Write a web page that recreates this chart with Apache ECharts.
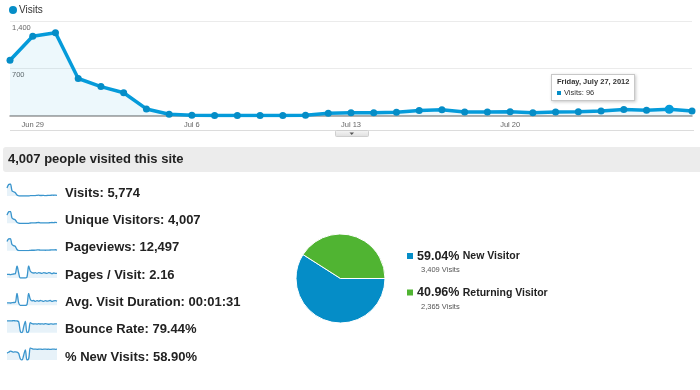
<!DOCTYPE html>
<html><head><meta charset="utf-8">
<script src="https://cdn.jsdelivr.net/npm/echarts@6/dist/echarts.min.js"></script>
<style>html,body{margin:0;padding:0;background:#fff}#c{width:700px;height:390px}</style>
</head><body><div id="c"></div>
<script>
// ---- data ----
const days = ['Jun 28','Jun 29','Jun 30','Jul 1','Jul 2','Jul 3','Jul 4','Jul 5','Jul 6','Jul 7','Jul 8','Jul 9','Jul 10','Jul 11','Jul 12','Jul 13','Jul 14','Jul 15','Jul 16','Jul 17','Jul 18','Jul 19','Jul 20','Jul 21','Jul 22','Jul 23','Jul 24','Jul 25','Jul 26','Jul 27','Jul 28'];
const visits = [820,1175,1225,550,430,340,100,22,5,4,4,4,4,5,36,42,45,50,78,88,55,55,60,45,55,60,68,92,80,96,70];
const yTicks = [0,700,1400];
const xTickLabels = ['Jun 29','Jul 6','Jul 13','Jul 20'];

const sparkUnique = [600,850,880,390,310,245,72,16,4,3,3,3,3,4,26,30,33,36,55,62,40,40,43,33,40,43,48,64,57,68,50];
const sparkPageviews = [2100,2700,2750,1400,1150,950,260,40,6,4,4,4,5,20,80,95,100,110,170,190,120,120,130,100,120,130,150,200,170,210,150];
const sparkPagesVisit = [2.1,2.1,2.0,2.1,2.2,2.3,4.6,2.5,1.0,1.0,1.0,1.0,1.3,4.6,3.0,2.6,2.5,2.6,2.4,2.6,2.5,2.4,2.6,2.5,2.4,2.6,2.5,2.3,2.5,2.4,2.4];
const sparkDuration = [60,62,58,65,70,75,300,60,0,0,0,0,20,300,150,110,120,100,115,105,120,110,100,115,105,110,120,100,110,115,105];
const sparkBounce = [82,82,81,82,83,82,81,75,10,0,40,78,0,10,70,62,60,61,59,62,60,61,59,62,60,58,61,60,59,61,60];
const sparkNewVisits = [58,64,74,70,66,68,66,55,10,0,40,85,0,10,100,94,90,91,89,90,91,88,90,91,89,90,88,90,91,89,90];

const metricNames = ['Visits','Unique Visitors','Pageviews','Pages / Visit','Avg. Visit Duration','Bounce Rate','% New Visits'];
const metricValues = ['5,774','4,007','12,497','2.16','00:01:31','79.44%','58.90%'];
const sparkData = [visits, sparkUnique, sparkPageviews, sparkPagesVisit, sparkDuration, sparkBounce, sparkNewVisits];

const headline = '4,007 people visited this site';
const pieNames = ['New Visitor','Returning Visitor'];
const pieValues = [3409, 2365];
const pieColors = ['#058dc7','#50b432'];
const tipIndex = 29;

// ---- chart ----
const FONT = '"Liberation Sans", Arial, sans-serif';
const BLUE = '#058dc7';
const chart = echarts.init(document.getElementById('c'));

const grids = [{left:10, right:8, top:21, height:94.7}];
const xAxes = [{
  gridIndex:0, type:'category', data:days, boundaryGap:false,
  axisLine:{lineStyle:{color:'#999', width:1.5}}, axisTick:{show:false},
  axisLabel:{interval:(i, v)=> xTickLabels.indexOf(v) >= 0, color:'#666', fontSize:7.5, margin:5, fontFamily:FONT},
  splitLine:{show:false}
}];
const yAxes = [{
  gridIndex:0, type:'value', min:yTicks[0], max:yTicks[yTicks.length-1], interval:yTicks[1]-yTicks[0],
  axisLine:{show:false}, axisTick:{show:false},
  splitLine:{lineStyle:{color:'#ebebeb', width:1}},
  axisLabel:{inside:true, showMinLabel:false, margin:2, verticalAlign:'top', padding:[3,0,0,0],
    color:'#666', fontSize:7.5, fontFamily:FONT, formatter:(v)=> v.toLocaleString('en-US')}
}];
const series = [{
  name:'Visits', type:'line', xAxisIndex:0, yAxisIndex:0, data:visits,
  symbol:'circle', symbolSize:7, showSymbol:true,
  lineStyle:{color:BLUE, width:3.5}, itemStyle:{color:BLUE},
  areaStyle:{color:'rgba(5,141,199,0.1)'},
  emphasis:{scale:1.3, focus:'none', lineStyle:{width:3.5}}
}];

const graphics = [];
const rowCenters = [];
for (let i = 0; i < metricNames.length; i++) rowCenters.push(193 + i * 27.33);

sparkData.forEach((arr, i) => {
  const gi = i + 1;
  const cy = rowCenters[i];
  grids.push({left:7, width:50, top:cy - 9, height:12});
  xAxes.push({gridIndex:gi, type:'category', data:days, boundaryGap:false, show:false});
  yAxes.push({gridIndex:gi, type:'value', min:'dataMin', max:'dataMax', show:false, splitLine:{show:false}});
  series.push({
    name:metricNames[i] + ' spark', type:'line', xAxisIndex:gi, yAxisIndex:gi, data:arr,
    symbol:'none', silent:true, smooth:0.35, lineStyle:{color:'#3a95cd', width:1.3},
    areaStyle:{color:'#ddedf7', origin:'start'}
  });
  graphics.push({type:'text', x:65, y:cy, silent:true,
    style:{text:metricNames[i] + ': ' + metricValues[i], font:'bold 13px ' + FONT, fill:'#222', verticalAlign:'middle'}});
});

series.push({
  type:'pie', center:[340.5, 278.5], radius:44.5, startAngle:0, clockwise:true, silent:true,
  label:{show:false}, labelLine:{show:false},
  itemStyle:{borderColor:'#fff', borderWidth:1},
  data:pieNames.map((n, i) => ({name:n, value:pieValues[i], itemStyle:{color:pieColors[i]}}))
});

const total = pieValues.reduce((a, b) => a + b, 0);
pieNames.forEach((n, i) => {
  const cy = 256.5 + i * 36.5;
  graphics.push({type:'rect', shape:{x:407, y:cy - 3.5, width:6, height:6}, style:{fill:pieColors[i]}, silent:true});
  graphics.push({type:'text', x:417, y:cy, silent:true, style:{
    text:'{p|' + (pieValues[i] / total * 100).toFixed(2) + '%} {n|' + n + '}',
    verticalAlign:'middle', fill:'#222',
    rich:{p:{font:'bold 12.5px ' + FONT, fill:'#222'}, n:{font:'bold 10.5px ' + FONT, fill:'#222'}}
  }});
  graphics.push({type:'text', x:421, y:cy + 13.5, silent:true, style:{
    text:pieValues[i].toLocaleString('en-US') + ' Visits', font:'7.5px ' + FONT, fill:'#555', verticalAlign:'middle'}});
});

// separator, handle, banner
graphics.push({type:'line', shape:{x1:10, y1:130.5, x2:694, y2:130.5}, style:{stroke:'#dcdcdc', lineWidth:1}, silent:true});
graphics.push({type:'rect', shape:{x:335.5, y:130.5, width:33, height:6, r:1},
  style:{fill:new echarts.graphic.LinearGradient(0,0,0,1,[{offset:0,color:'#f6f6f6'},{offset:1,color:'#dedede'}]), stroke:'#cfcfcf', lineWidth:1}, silent:true});
graphics.push({type:'polygon', shape:{points:[[349.5,132.5],[354,132.5],[351.75,135]]}, style:{fill:'#555'}, silent:true});
graphics.push({type:'rect', shape:{x:3, y:147, width:697, height:25, r:[3,0,0,3]}, style:{fill:'#ececec'}, silent:true, z:-1});
graphics.push({type:'text', x:8, y:159.5, silent:true, style:{text:headline, font:'bold 13px ' + FONT, fill:'#222', verticalAlign:'middle'}});

chart.setOption({
  animation:false,
  backgroundColor:'#fff',
  textStyle:{fontFamily:FONT},
  legend:{data:['Visits'], left:9, top:5, padding:0, itemWidth:8, itemHeight:8, icon:'circle', selectedMode:false,
    itemGap:5, textStyle:{fontSize:10, color:'#333', fontFamily:FONT, padding:[0,0,0,-3]}},
  tooltip:{
    trigger:'item', triggerOn:'none', alwaysShowContent:true, position:[551,74], transitionDuration:0,
    backgroundColor:'#fff', borderColor:'#c8c8c8', borderWidth:1, padding:[2,5],
    extraCssText:'box-shadow:1px 1px 3px rgba(0,0,0,0.22);border-radius:0;',
    textStyle:{fontFamily:FONT, fontSize:7.5, color:'#333'},
    formatter:(p) => {
      const d = new Date(days[p.dataIndex] + ' 2012');
      const ds = d.toLocaleDateString('en-US', {weekday:'long', year:'numeric', month:'long', day:'numeric'});
      return '<div style="font-weight:bold;font-size:7.5px;line-height:10.5px;color:#333">' + ds + '</div>' +
        '<div style="font-size:7.5px;line-height:10.5px;color:#333"><span style="display:inline-block;width:4px;height:4px;background:' + BLUE +
        ';margin-right:3px;vertical-align:middle"></span>' + p.seriesName + ': ' + p.value + '</div>';
    }
  },
  grid:grids, xAxis:xAxes, yAxis:yAxes, series:series, graphic:graphics
});
chart.dispatchAction({type:'highlight', seriesIndex:0, dataIndex:tipIndex});
chart.dispatchAction({type:'showTip', seriesIndex:0, dataIndex:tipIndex});
</script></body></html>
